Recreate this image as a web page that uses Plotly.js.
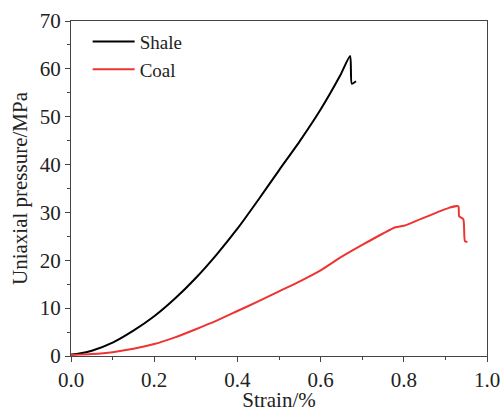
<!DOCTYPE html>
<html>
<head>
<meta charset="utf-8">
<script src="https://cdn.plot.ly/plotly-3.0.1.min.js"></script>
<style>html,body{margin:0;padding:0;background:#fff;}#chart{width:503px;height:412px;}</style>
</head>
<body>
<div id="chart"></div>
<script>
const shaleStrain = [0, 0.02, 0.05, 0.1, 0.15, 0.2, 0.25, 0.3, 0.35, 0.4, 0.45, 0.5, 0.55, 0.6, 0.647, 0.671, 0.675, 0.685];
const shalePressure = [0.3, 0.5, 1.1, 2.8, 5.3, 8.3, 12.0, 16.3, 21.2, 26.6, 32.6, 38.8, 44.9, 51.5, 58.6, 62.7, 56.9, 57.4];
const coalStrain = [0, 0.05, 0.1, 0.15, 0.2, 0.25, 0.3, 0.35, 0.4, 0.45, 0.5, 0.55, 0.6, 0.65, 0.7, 0.75, 0.78, 0.8, 0.84, 0.88, 0.91, 0.931, 0.933, 0.943, 0.947, 0.953];
const coalPressure = [0.2, 0.4, 0.8, 1.5, 2.5, 3.9, 5.6, 7.4, 9.4, 11.4, 13.5, 15.6, 17.9, 20.7, 23.2, 25.6, 26.9, 27.2, 28.6, 30.0, 31.0, 31.3, 29.2, 28.6, 24.0, 23.8];
const seriesNames = ['Shale', 'Coal'];

const font = {family: 'Liberation Serif', size: 21, color: '#222'};
const legendFont = {family: 'Liberation Serif', size: 19, color: '#222'};

const traces = [
  {x: shaleStrain, y: shalePressure, name: seriesNames[0], mode: 'lines', line: {color: '#000000', width: 2, shape: 'spline', smoothing: 0.6}},
  {x: coalStrain, y: coalPressure, name: seriesNames[1], mode: 'lines', line: {color: '#ee3333', width: 2, shape: 'spline', smoothing: 0.6}}
];

const axisCommon = {
  showgrid: false, zeroline: false, showline: true, linecolor: '#444', linewidth: 1,
  mirror: true, ticks: 'outside', ticklen: 5, tickwidth: 1, tickcolor: '#444',
  tickfont: font
};

const layout = {
  width: 503, height: 412,
  margin: {l: 71, r: 16, t: 21, b: 56},
  paper_bgcolor: '#fff', plot_bgcolor: '#fff',
  font: font,
  showlegend: true,
  legend: {x: 0.04, y: 0.995, xanchor: 'left', yanchor: 'top', bgcolor: 'rgba(0,0,0,0)', font: legendFont, tracegroupgap: 0, itemwidth: 42},
  xaxis: Object.assign({}, axisCommon, {
    range: [0, 1], dtick: 0.2, tickformat: '.1f',
    minor: {dtick: 0.1, ticks: 'outside', ticklen: 3, tickcolor: '#444'},
    title: {text: 'Strain/%', font: font, standoff: 2}
  }),
  yaxis: Object.assign({}, axisCommon, {
    range: [0, 70], dtick: 10,
    minor: {dtick: 5, ticks: 'outside', ticklen: 3, tickcolor: '#444'},
    title: {text: 'Uniaxial pressure/MPa', font: font, standoff: 6}
  })
};

Plotly.newPlot('chart', traces, layout, {staticPlot: true, displayModeBar: false});
</script>
</body>
</html>
